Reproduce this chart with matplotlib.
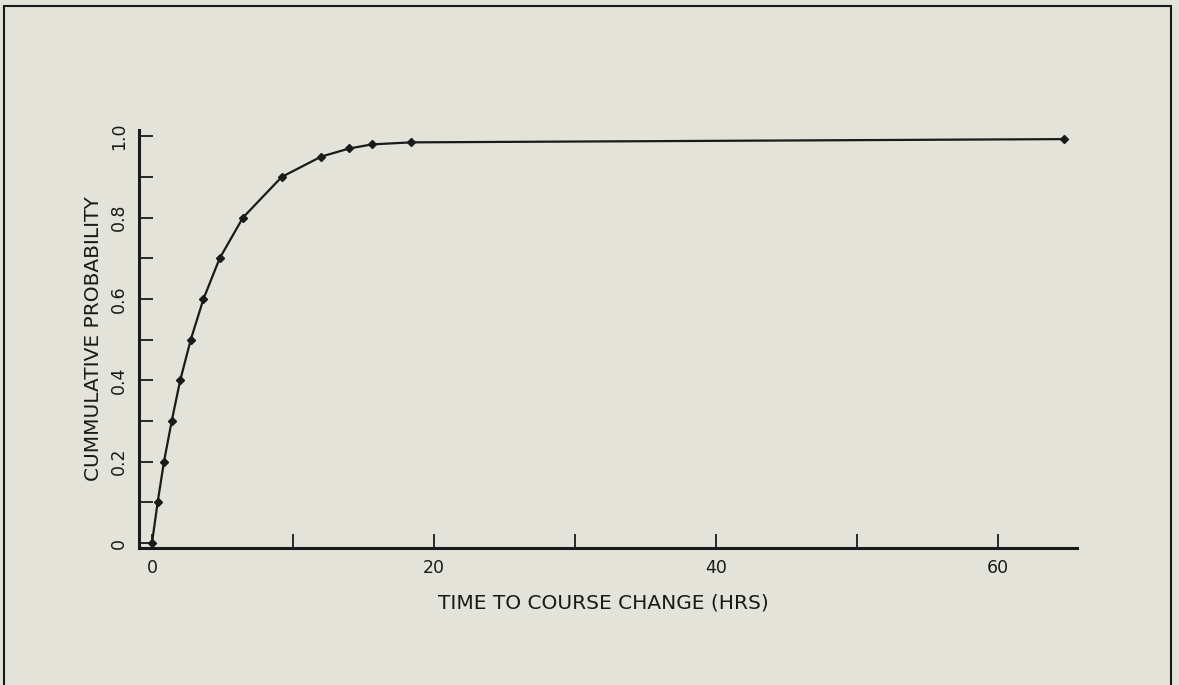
import matplotlib
matplotlib.use("Agg")
import matplotlib.pyplot as plt
from matplotlib.patches import Rectangle

# Data
hours = [0.0, 0.4, 0.85, 1.4, 2.0, 2.75, 3.65, 4.8, 6.45, 9.2, 12.0, 14.0, 15.6, 18.4, 64.7]
cum_prob = [0.0, 0.1, 0.2, 0.3, 0.4, 0.5, 0.6, 0.7, 0.8, 0.9, 0.95, 0.97, 0.98, 0.985, 0.993]

x_major = [0, 20, 40, 60]
x_minor = [10, 30, 50]
y_major = [0.0, 0.2, 0.4, 0.6, 0.8, 1.0]
y_major_labels = ["0", "0.2", "0.4", "0.6", "0.8", "1.0"]
y_minor = [0.1, 0.3, 0.5, 0.7, 0.9]

bg = "#e3e3d9"
ink = "#1a1a1a"

fig = plt.figure(figsize=(11.79, 6.85), dpi=100, facecolor=bg)
ax = fig.add_axes([0.1179, 0.200, 0.7956, 0.610])
ax.set_facecolor(bg)

ax.plot(hours, cum_prob, color=ink, lw=1.6, marker="D", ms=4.5,
        markerfacecolor=ink, markeredgecolor=ink)

ax.set_xlim(-0.92, 65.6)
ax.set_ylim(-0.012, 1.015)

for s in ["top", "right"]:
    ax.spines[s].set_visible(False)
for s in ["left", "bottom"]:
    ax.spines[s].set_linewidth(2.2)
    ax.spines[s].set_color(ink)

ax.set_xticks(x_major)
ax.set_xticklabels([str(v) for v in x_major])
ax.set_xticks(x_minor, minor=True)
ax.set_yticks(y_major)
ax.set_yticklabels(y_major_labels, rotation=90, va="center")
ax.set_yticks(y_minor, minor=True)

ax.tick_params(axis="both", which="both", direction="in", color=ink, width=1.3,
               labelsize=12.5, labelcolor=ink)
ax.tick_params(axis="x", which="both", length=10, pad=8)
ax.tick_params(axis="y", which="both", length=10, pad=8)

ax.set_xlabel("TIME TO COURSE CHANGE (HRS)", fontsize=14.5, color=ink, va="center")
ax.xaxis.set_label_coords(0.495, -0.1316)
ax.set_ylabel("CUMMULATIVE PROBABILITY", fontsize=14.5, color=ink, va="center")
ax.yaxis.set_label_coords(-0.049, 0.5)

# outer frame
fig.patches.append(Rectangle((4 / 1179, -0.01), (1171 - 4) / 1179, (685 - 6) / 685 + 0.01,
                             transform=fig.transFigure, fill=False, edgecolor=ink,
                             linewidth=1.5))

fig.savefig("out.png", dpi=100, facecolor=bg)
